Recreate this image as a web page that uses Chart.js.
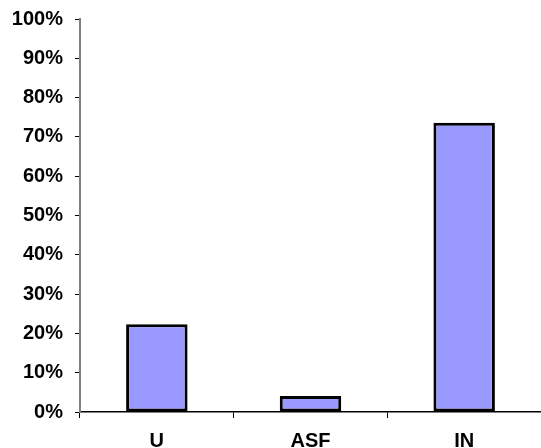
<!DOCTYPE html>
<html>
<head>
<meta charset="utf-8">
<script src="https://cdn.jsdelivr.net/npm/chart.js@4/dist/chart.umd.min.js"></script>
<style>
  html, body { margin: 0; padding: 0; background: #fff; }
  #wrap { width: 541px; height: 448px; }
</style>
</head>
<body>
<div id="wrap"><canvas id="myChart" width="541" height="448"></canvas></div>
<script>
var categories = ['U', 'ASF', 'IN'];
var shares = [22.3, 4.1, 73.6];
var yTicks = [0, 10, 20, 30, 40, 50, 60, 70, 80, 90, 100];

var labelFont = { family: "Arial, 'Liberation Sans', sans-serif", size: 20, weight: 'bold' };

var ctx = document.getElementById('myChart').getContext('2d');
var myChart = new Chart(ctx, {
	type: 'bar',
	data: {
		labels: categories,
		datasets: [
			{
				data: shares,
				backgroundColor: '#9999ff',
				borderColor: '#000000',
				borderWidth: 3,
				borderSkipped: false,
				barPercentage: 0.4,
				categoryPercentage: 1.0
			}
		]
	},
	options: {
		responsive: false,
		animation: false,
		layout: { padding: { top: 19, right: 0, left: 0, bottom: 0 } },
		plugins: {
			legend: { display: false },
			tooltip: { enabled: false }
		},
		scales: {
			x: {
				grid: {
					display: true,
					drawOnChartArea: false,
					drawTicks: true,
					tickLength: 6,
					color: '#000000',
					offset: true
				},
				border: { display: true, color: '#000000', width: 1.5 },
				ticks: { color: '#000000', font: labelFont, padding: 11 },
				afterFit: function(scale) { scale.height = 36; }
			},
			y: {
				min: 0,
				max: 100,
				afterBuildTicks: function(scale) {
					scale.ticks = yTicks.map(function(v) { return { value: v }; });
				},
				grid: {
					display: true,
					drawOnChartArea: false,
					drawTicks: true,
					tickLength: 5,
					color: '#000000'
				},
				border: { display: true, color: '#808080', width: 2 },
				ticks: {
					color: '#000000',
					font: labelFont,
					padding: 12,
					callback: function(v) { return v + '%'; }
				},
				// fixed width, and no extra room kept for the end labels
				afterFit: function(scale) {
					scale.width = 80;
					scale.paddingTop = 0;
					scale.paddingBottom = 0;
				}
			}
		}
	}
});
</script>
</body>
</html>
